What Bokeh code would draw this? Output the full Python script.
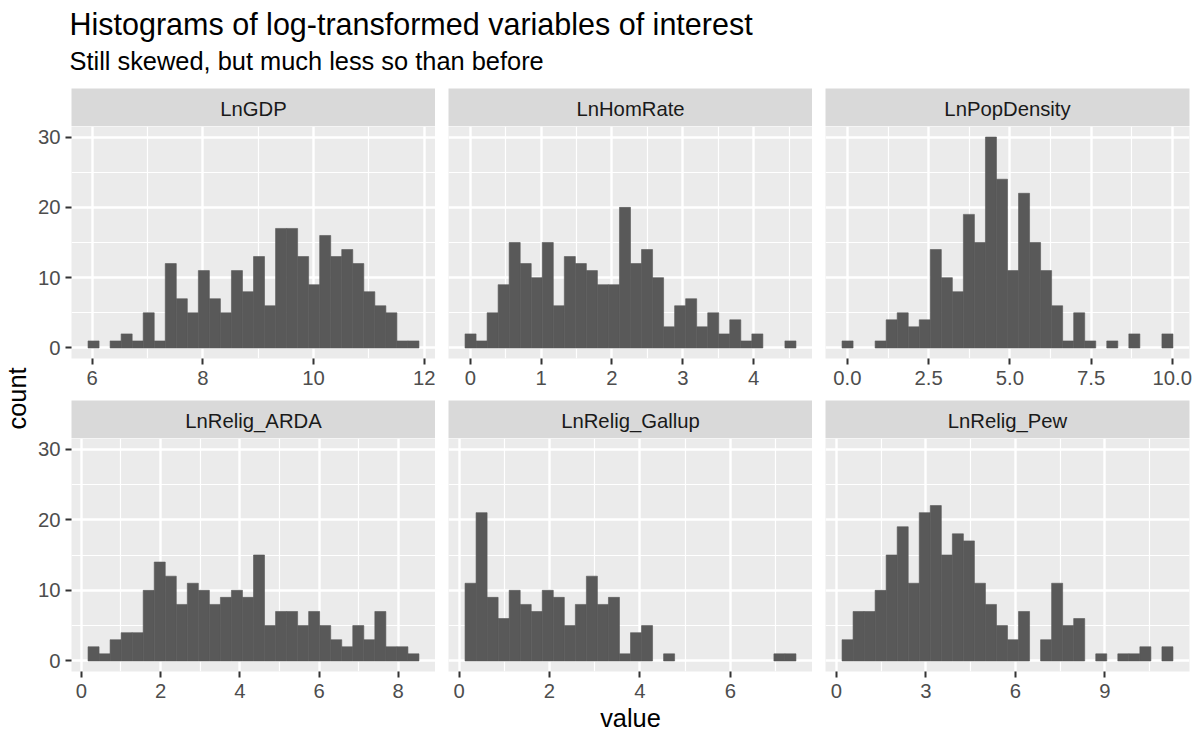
import math
from bokeh.plotting import figure
from bokeh.layouts import row, column
from bokeh.models import Range1d, FixedTicker
from bokeh.core.properties import value
from bokeh.embed import file_html
from bokeh.resources import INLINE

FONT = "Liberation Sans"

# ---------------- data ----------------
title_text = "Histograms of log-transformed variables of interest"
subtitle_text = "Still skewed, but much less so than before"
x_title = "value"
y_title = "count"

panel_names = ["LnGDP", "LnHomRate", "LnPopDensity",
               "LnRelig_ARDA", "LnRelig_Gallup", "LnRelig_Pew"]

counts_gdp = [1, 0, 1, 2, 1, 5, 1, 12, 7, 5, 11, 7, 5, 11, 8, 13, 6, 17, 17, 13,
              9, 16, 13, 14, 12, 8, 6, 5, 1, 1]
counts_hom = [2, 1, 5, 9, 15, 12, 10, 15, 6, 13, 12, 11, 9, 9, 20, 12, 14, 10, 3, 6,
              7, 3, 5, 2, 4, 1, 2, 0, 0, 1]
counts_pop = [1, 0, 0, 1, 4, 5, 3, 4, 14, 10, 8, 19, 15, 30, 24, 11, 22, 15, 11, 6,
              1, 5, 1, 0, 1, 0, 2, 0, 0, 2]
counts_arda = [2, 1, 3, 4, 4, 10, 14, 12, 8, 11, 10, 8, 9, 10, 9, 15, 5, 7, 7, 5,
               7, 5, 3, 2, 5, 3, 7, 2, 2, 1]
counts_gallup = [11, 21, 9, 6, 10, 8, 7, 10, 9, 5, 8, 12, 8, 9, 1, 4, 5, 0, 1, 0,
                 0, 0, 0, 0, 0, 0, 0, 0, 1, 1]
counts_pew = [3, 7, 7, 10, 15, 19, 11, 21, 22, 15, 18, 17, 11, 8, 5, 3, 7, 0, 3, 11,
              5, 6, 0, 1, 0, 1, 1, 2, 0, 2]

# left edge of first bin and right edge of last bin (data units)
bin_lo = [5.928, -0.075, -0.165, 0.169, 0.133, 0.190]
bin_hi = [11.904, 4.598, 10.020, 8.523, 7.448, 11.277]

x_ticks = [[6, 8, 10, 12], [0, 1, 2, 3, 4], [0, 2.5, 5, 7.5, 10],
           [0, 2, 4, 6, 8], [0, 2, 4, 6], [0, 3, 6, 9]]
x_tick_labels = [["6", "8", "10", "12"], ["0", "1", "2", "3", "4"],
                 ["0.0", "2.5", "5.0", "7.5", "10.0"],
                 ["0", "2", "4", "6", "8"], ["0", "2", "4", "6"], ["0", "3", "6", "9"]]
y_ticks = [0, 10, 20, 30]
y_tick_labels = ["0", "10", "20", "30"]

all_counts = [counts_gdp, counts_hom, counts_pop, counts_arda, counts_gallup, counts_pew]

# ---------------- style ----------------
PANEL_BG = "#EBEBEB"
STRIP_BG = "#D9D9D9"
BAR = "#595959"
FRAME_W, STRIP_H = 364, 38
FRAME_H = [232, 233]
LEFT_B = [40, 13, 13]
RIGHT_B = [0, 0, 11]
BOTTOM_B = [42, 32]
COUNT_W = 31
HEADER_H = 88
TOTAL_W = 1200
SMALL = "20.3px"
BIG = "25.4px"


def minor_from(major, lo, hi):
    step = major[1] - major[0]
    pts = [major[0] - step / 2] + [(a + b) / 2 for a, b in zip(major[:-1], major[1:])] + [major[-1] + step / 2]
    return [m for m in pts if lo <= m <= hi]


ymax = max(max(c) for c in all_counts)
y_lo, y_hi = -0.05 * ymax, ymax * 1.05


def make_panel(i):
    col, r = i % 3, i // 3
    cnt = all_counts[i]
    n = len(cnt)
    lo, hi = bin_lo[i], bin_hi[i]
    w = (hi - lo) / n
    lefts = [lo + k * w for k in range(n)]
    rights = [lo + (k + 1) * w for k in range(n)]
    span = hi - lo
    xr = Range1d(lo - 0.05 * span, hi + 0.05 * span)
    yr = Range1d(y_lo, y_hi)
    p = figure(frame_width=FRAME_W, frame_height=FRAME_H[r], x_range=xr, y_range=yr,
               output_backend="svg", toolbar_location=None,
               y_axis_location="left" if col == 0 else None,
               min_border_left=LEFT_B[col], min_border_right=RIGHT_B[col],
               min_border_top=0, min_border_bottom=BOTTOM_B[r],
               background_fill_color=PANEL_BG, border_fill_color="white",
               outline_line_color=None)
    # thin same-colour outline hides antialiasing seams between adjacent bars
    p.quad(left=lefts, right=rights, bottom=0, top=cnt,
           fill_color=BAR, line_color=BAR, line_width=0.6,
           line_alpha=[1.0 if c > 0 else 0.0 for c in cnt])

    xminor = minor_from(x_ticks[i], xr.start, xr.end)
    yminor = minor_from(y_ticks, y_lo, y_hi)
    p.xgrid.ticker = FixedTicker(ticks=x_ticks[i], minor_ticks=xminor)
    p.ygrid.ticker = FixedTicker(ticks=y_ticks, minor_ticks=yminor)
    for g in (p.xgrid, p.ygrid):
        g.grid_line_color = "white"
        g.grid_line_width = 2.4
        g.minor_grid_line_color = "white"
        g.minor_grid_line_width = 1.2

    axes = list(p.xaxis) + (list(p.yaxis) if col == 0 else [])
    for ax in axes:
        ax.axis_line_color = None
        ax.major_tick_out = 6
        ax.major_tick_in = 0
        ax.major_tick_line_color = "#333333"
        ax.major_tick_line_width = 2
        ax.minor_tick_line_color = None
        ax.major_label_text_font = FONT
        ax.major_label_text_font_size = SMALL
        ax.major_label_text_color = "#4D4D4D"
    p.xaxis.ticker = FixedTicker(ticks=x_ticks[i])
    p.xaxis.major_label_overrides = {t: s for t, s in zip(x_ticks[i], x_tick_labels[i])}
    p.xaxis.major_label_standoff = 6
    if col == 0:
        p.yaxis.ticker = FixedTicker(ticks=y_ticks)
        p.yaxis.major_label_overrides = {t: s for t, s in zip(y_ticks, y_tick_labels)}
        p.yaxis.major_label_standoff = 5
    return p


def make_strip(i):
    col = i % 3
    s = figure(frame_width=FRAME_W, frame_height=STRIP_H,
               x_range=Range1d(0, FRAME_W), y_range=Range1d(0, STRIP_H),
               x_axis_location=None, y_axis_location=None,
               output_backend="svg", toolbar_location=None,
               min_border_left=LEFT_B[col], min_border_right=RIGHT_B[col],
               min_border_top=0, min_border_bottom=0,
               background_fill_color=STRIP_BG, border_fill_color="white",
               outline_line_color=None)
    s.xgrid.grid_line_color = None
    s.ygrid.grid_line_color = None
    s.text(x=[FRAME_W / 2], y=[17.5], text=[panel_names[i]], text_align="center",
           text_baseline="alphabetic", text_font=value(FONT),
           text_font_size=SMALL, text_color="#1A1A1A")
    return s


def blank(w, h):
    f = figure(frame_width=w, frame_height=h, x_range=Range1d(0, w), y_range=Range1d(0, h),
               x_axis_location=None, y_axis_location=None,
               output_backend="svg", toolbar_location=None,
               min_border_left=0, min_border_right=0, min_border_top=0, min_border_bottom=0,
               background_fill_color="white", border_fill_color="white",
               outline_line_color=None)
    f.xgrid.grid_line_color = None
    f.ygrid.grid_line_color = None
    return f


header = blank(TOTAL_W, HEADER_H)
header.text(x=[69], y=[64.3], text=[title_text], text_align="left", text_baseline="alphabetic",
            text_font=value(FONT), text_font_size="30.5px", text_color="black")
header.text(x=[69], y=[27.8], text=[subtitle_text], text_align="left", text_baseline="alphabetic",
            text_font=value(FONT), text_font_size=BIG, text_color="black")

strips = [make_strip(i) for i in range(6)]
panels = [make_panel(i) for i in range(6)]

grid_h = STRIP_H * 2 + FRAME_H[0] + FRAME_H[1] + BOTTOM_B[0] + BOTTOM_B[1]
count_fig = blank(COUNT_W, grid_h)
count_fig.text(x=[16.9], y=[grid_h - 310], text=[y_title], angle=math.pi / 2,
               text_align="center", text_baseline="alphabetic",
               text_font=value(FONT), text_font_size=BIG, text_color="black")

value_h = 738 - HEADER_H - grid_h
value_fig = blank(TOTAL_W, value_h)
value_fig.text(x=[630], y=[value_h - 14.9], text=[x_title], text_align="center",
               text_baseline="alphabetic",
               text_font=value(FONT), text_font_size=BIG, text_color="black")

grid = column(row(*strips[:3]), row(*panels[:3]), row(*strips[3:]), row(*panels[3:]))
layout = column(header, row(count_fig, grid), value_fig)

open("out.html", "w").write(file_html(layout, INLINE))
